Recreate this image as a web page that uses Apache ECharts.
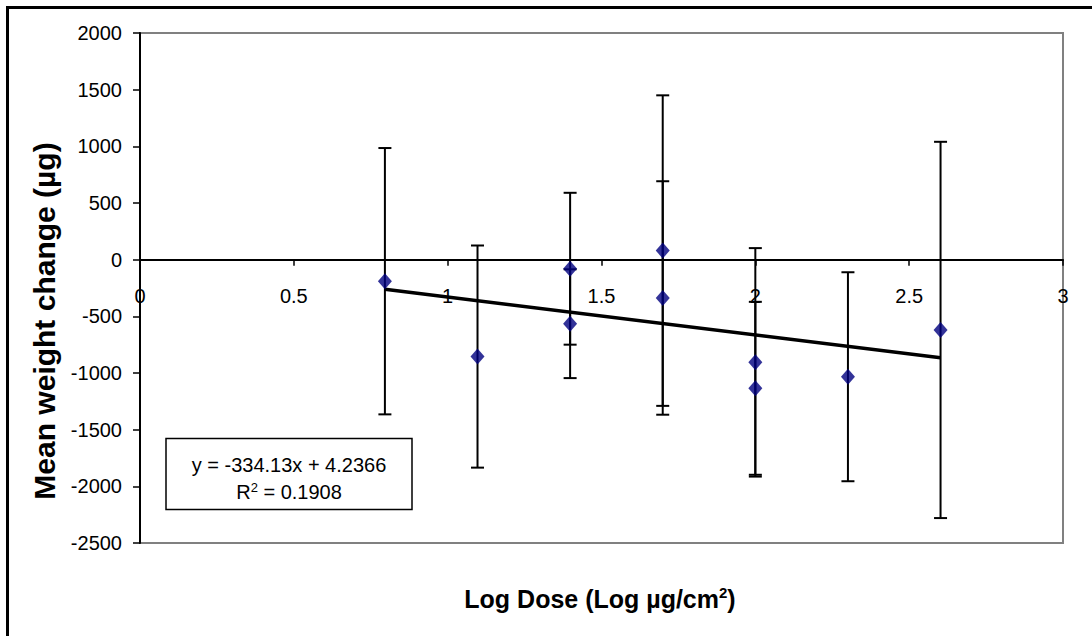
<!DOCTYPE html>
<html>
<head>
<meta charset="utf-8">
<script src="https://cdn.jsdelivr.net/npm/echarts@6/dist/echarts.min.js"></script>
<style>
  html, body { margin: 0; padding: 0; background: #fff; overflow: hidden; }
  #chart { width: 1092px; height: 636px; }
</style>
</head>
<body>
<div id="chart"></div>
<script>
// Log dose (log µg/cm²) for each treatment group
const logDose = [0.796, 1.097, 1.398, 1.699, 2.0, 2.301, 2.602];

// First set of measurements: mean weight change (µg) and its error
const meanA = [-190, -855, -80, 80, -906, -1033, -620];
const errA  = [1175, 980, 670, 1370, 1008, 922, 1660];

// Second set of measurements, taken at three of the doses
const doseB = [1.398, 1.699, 2.0];
const meanB = [-565, -338, -1135];
const errB  = [480, 1030, 763];

// Linear trend line as reported
const slope = -334.13;
const intercept = 4.2366;
const rSquared = '0.1908';

// Axis ticks
const xTicks = { min: 0, max: 3, step: 0.5 };
const yTicks = { min: -2500, max: 2000, step: 500 };

const FONT = '"Liberation Sans", Arial, sans-serif';

// Plot area in pixels
const GRID = { left: 140, top: 33, right: 29, bottom: 93 };
const plotHeight = 636 - GRID.top - GRID.bottom;
// the category axis crosses the value axis at zero
const xAxisOffset = -plotHeight * (0 - yTicks.min) / (yTicks.max - yTicks.min);

const pointsA = logDose.map((x, i) => [x, meanA[i]]);
const pointsB = doseB.map((x, i) => [x, meanB[i]]);
const barsA = logDose.map((x, i) => [x, meanA[i] - errA[i], meanA[i] + errA[i]]);
const barsB = doseB.map((x, i) => [x, meanB[i] - errB[i], meanB[i] + errB[i]]);
const xFirst = logDose[0], xLast = logDose[logDose.length - 1];
const trend = [[xFirst, slope * xFirst + intercept], [xLast, slope * xLast + intercept]];

function renderErrorBar(params, api) {
  const x = api.value(0);
  const lo = api.coord([x, api.value(1)]);
  const hi = api.coord([x, api.value(2)]);
  const half = 6.5;
  const style = { stroke: '#000', lineWidth: 2 };
  return {
    type: 'group',
    children: [
      { type: 'line', shape: { x1: lo[0], y1: lo[1], x2: hi[0], y2: hi[1] }, style },
      { type: 'line', shape: { x1: hi[0] - half, y1: hi[1], x2: hi[0] + half, y2: hi[1] }, style },
      { type: 'line', shape: { x1: lo[0] - half, y1: lo[1], x2: lo[0] + half, y2: lo[1] }, style }
    ]
  };
}

const chart = echarts.init(document.getElementById('chart'), null, { renderer: 'svg' });

chart.setOption({
  animation: false,
  backgroundColor: '#fff',
  grid: {
    left: GRID.left, top: GRID.top, right: GRID.right, bottom: GRID.bottom,
    show: true, borderColor: '#808080', borderWidth: 2, backgroundColor: 'transparent'
  },
  xAxis: {
    type: 'value',
    position: 'bottom',
    offset: xAxisOffset,
    min: xTicks.min, max: xTicks.max, interval: xTicks.step,
    axisLine: { onZero: false, lineStyle: { color: '#000', width: 2 } },
    axisTick: { show: true, inside: false, length: 6, lineStyle: { color: '#000', width: 1.5 } },
    axisLabel: {
      margin: 26, fontSize: 20, color: '#000', fontFamily: FONT,
      showMinLabel: true, showMaxLabel: true,
      formatter: v => String(v)
    },
    splitLine: { show: false }
  },
  yAxis: {
    type: 'value',
    min: yTicks.min, max: yTicks.max, interval: yTicks.step,
    axisLine: { show: true, onZero: false, lineStyle: { color: '#000', width: 2 } },
    axisTick: { show: true, inside: false, length: 7, lineStyle: { color: '#000', width: 1.5 } },
    axisLabel: { margin: 18, fontSize: 20, color: '#000', fontFamily: FONT, formatter: v => String(v) },
    splitLine: { show: false }
  },
  series: [
    { type: 'custom', renderItem: renderErrorBar, data: barsA, encode: { x: 0, y: [1, 2] }, z: 2 },
    { type: 'custom', renderItem: renderErrorBar, data: barsB, encode: { x: 0, y: [1, 2] }, z: 2 },
    {
      type: 'line', data: trend, showSymbol: false, symbol: 'none', z: 3,
      lineStyle: { color: '#000', width: 3.5 }
    },
    {
      type: 'scatter', data: pointsA, symbol: 'diamond', symbolSize: [14, 16], z: 4,
      itemStyle: { color: '#000080' }
    },
    {
      type: 'scatter', data: pointsB, symbol: 'diamond', symbolSize: [14, 16], z: 4,
      itemStyle: { color: '#000080' }
    }
  ],
  graphic: [
    // outer chart frame
    {
      type: 'polyline', z: 10,
      shape: { points: [[7.5, 640], [7.5, 7.5], [1100, 7.5]] },
      style: { stroke: '#000', lineWidth: 3, fill: null }
    },
    // trend line equation box
    {
      type: 'rect', z: 10,
      shape: { x: 166, y: 438.5, width: 246, height: 71 },
      style: { fill: '#fff', stroke: '#000', lineWidth: 1.5 }
    },
    {
      type: 'text', z: 11, x: 289, y: 465,
      style: {
        text: 'y = ' + slope + 'x + ' + intercept,
        font: '20px ' + FONT, fill: '#000', align: 'center', verticalAlign: 'middle'
      }
    },
    {
      type: 'text', z: 11, x: 289, y: 492,
      style: {
        text: 'R{sup|2} = ' + rSquared,
        font: '20px ' + FONT, fill: '#000', align: 'center', verticalAlign: 'middle',
        rich: { sup: { fontSize: 13, verticalAlign: 'top', padding: [0, 0, 10, 0], fontFamily: FONT } }
      }
    },
    // axis titles
    {
      type: 'text', z: 11, x: 600, y: 599,
      style: {
        text: 'Log Dose (Log µg/cm{sup|2})',
        font: 'bold 25px ' + FONT, fill: '#000', align: 'center', verticalAlign: 'middle',
        rich: { sup: { fontSize: 15, fontWeight: 'bold', fontFamily: FONT, padding: [0, 0, 14, 0] } }
      }
    },
    {
      type: 'text', z: 11, x: 44, y: 321, rotation: Math.PI / 2,
      style: {
        text: 'Mean weight change (µg)',
        font: 'bold 30px ' + FONT, fill: '#000', align: 'center', verticalAlign: 'middle'
      }
    }
  ]
});
</script>
</body>
</html>
